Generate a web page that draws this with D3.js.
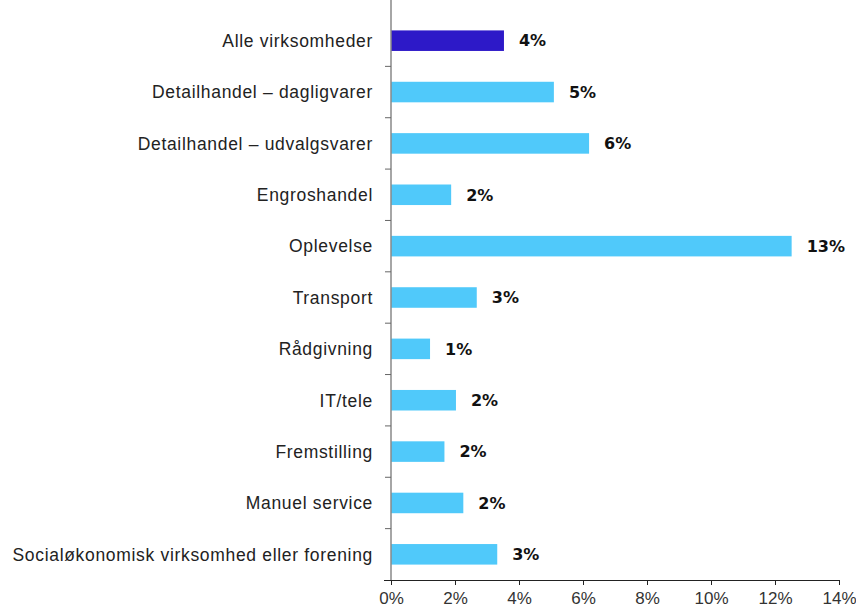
<!DOCTYPE html>
<html>
<head>
<meta charset="utf-8">
<script src="https://cdn.jsdelivr.net/npm/d3@7"></script>
<style>
  body { margin: 0; background: #fff; }
  text { font-family: "Liberation Sans", Arial, sans-serif; }
</style>
</head>
<body>
<div id="chart"></div>
<script>
var categories = [
    "Alle virksomheder",
    "Detailhandel – dagligvarer",
    "Detailhandel – udvalgsvarer",
    "Engroshandel",
    "Oplevelse",
    "Transport",
    "Rådgivning",
    "IT/tele",
    "Fremstilling",
    "Manuel service",
    "Socialøkonomisk virksomhed eller forening"
];
var values = [3.53, 5.09, 6.19, 1.88, 12.52, 2.68, 1.22, 2.03, 1.67, 2.26, 3.32];
var valueLabels = ["4%", "5%", "6%", "2%", "13%", "3%", "1%", "2%", "2%", "2%", "3%"];
var xTicks = [0, 2, 4, 6, 8, 10, 12, 14];

var width = 856, height = 614;

var svg = d3.select("#chart")
    .append("svg")
    .attr("width", width)
    .attr("height", height);

var x = d3.scaleLinear().domain([0, 14]).range([391, 839]);
var y = d3.scaleBand().domain(categories).range([15, 580]).paddingInner(0.6).paddingOuter(0.3);

// bars
svg.append("g")
    .selectAll("rect")
    .data(values)
    .enter().append("rect")
    .attr("x", x(0))
    .attr("y", (d, i) => y(categories[i]))
    .attr("width", (d) => x(d) - x(0))
    .attr("height", y.bandwidth())
    .attr("fill", (d, i) => i == 0 ? "#2d19c8" : "#50c9fa");

// value labels
svg.append("g")
    .selectAll("text")
    .data(values)
    .enter().append("text")
    .attr("x", (d) => x(d) + 15)
    .attr("y", (d, i) => y(categories[i]) + y.bandwidth() / 2)
    .attr("dy", "0.36em")
    .text((d, i) => valueLabels[i])
    .style("font-family", "'DejaVu Sans', sans-serif")
    .style("font-size", "16px")
    .style("font-weight", "bold")
    .style("fill", "#111");

// category labels
svg.append("g")
    .selectAll("text")
    .data(categories)
    .enter().append("text")
    .attr("x", 373)
    .attr("y", (d) => y(d) + y.bandwidth() / 2)
    .attr("dy", "0.36em")
    .attr("text-anchor", "end")
    .text((d) => d)
    .style("font-size", "17.5px")
    .style("letter-spacing", "0.68px")
    .style("fill", "#222");

// y axis line + ticks between rows
var step = y.step();
var boundaries = categories.slice(1).map((d) => y(d) - (step - y.bandwidth()) / 2);
svg.append("line")
    .attr("x1", x(0)).attr("x2", x(0))
    .attr("y1", 0).attr("y2", 580)
    .style("stroke", "#888").style("stroke-width", 1.5);
svg.append("g")
    .selectAll("line")
    .data(boundaries)
    .enter().append("line")
    .attr("x1", x(0) - 6).attr("x2", x(0))
    .attr("y1", (d) => d).attr("y2", (d) => d)
    .style("stroke", "#666").style("stroke-width", 1);

// x axis
var xAxis = svg.append("g")
    .attr("transform", "translate(0,580)")
    .call(d3.axisBottom(x).tickValues(xTicks).tickFormat((d) => d + "%").tickSize(5).tickSizeOuter(0));
xAxis.select(".domain").attr("d", "M" + (x(0) - 7) + ",0.5H" + x(14)).style("stroke", "#222");
xAxis.selectAll(".tick line").style("stroke", "#222");
xAxis.selectAll(".tick text")
    .style("font-size", "17px")
    .style("fill", "#333")
    .attr("dy", "0.95em");
</script>
</body>
</html>
